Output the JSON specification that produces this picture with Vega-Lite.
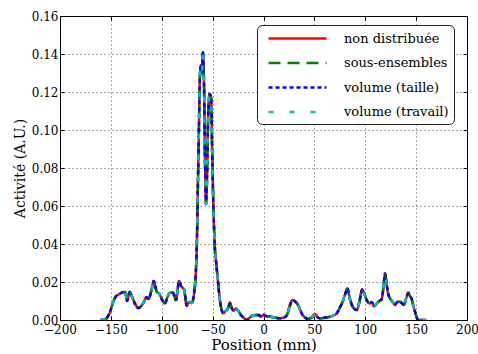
{
  "$schema": "https://vega.github.io/schema/vega-lite/v6.json",
  "width": 407,
  "height": 304,
  "autosize": {"type": "none"},
  "padding": {"left": 60, "top": 16, "right": 11, "bottom": 34},
  "background": "white",
  "config": {
    "font": "DejaVu Serif",
    "view": {"stroke": "#000", "strokeWidth": 1},
    "axis": {
      "labelFont": "DejaVu Serif",
      "labelFontSize": 12,
      "labelColor": "#000",
      "titleFont": "DejaVu Serif",
      "titleFontWeight": "normal",
      "titleColor": "#000",
      "domainColor": "#000",
      "tickColor": "#000",
      "tickSize": -4,
      "gridColor": "#000",
      "gridDash": [1, 3],
      "gridOpacity": 0.7,
      "gridWidth": 1,
      "labelOverlap": false,
      "labelFlush": false,
      "labelBound": false
    },
    "legend": {
      "labelFont": "DejaVu Serif"
    }
  },
  "data": {
    "values": [
      {"x": -160, "non distribuée": 0, "sous-ensembles": 0, "volume (taille)": 0, "volume (travail)": 0},
      {"x": -157, "non distribuée": 0, "sous-ensembles": 0, "volume (taille)": 0, "volume (travail)": 0},
      {"x": -154, "non distribuée": 0.001, "sous-ensembles": 0.001, "volume (taille)": 0.001, "volume (travail)": 0.001},
      {"x": -151, "non distribuée": 0.004, "sous-ensembles": 0.004, "volume (taille)": 0.004, "volume (travail)": 0.004},
      {"x": -148, "non distribuée": 0.009, "sous-ensembles": 0.009, "volume (taille)": 0.009, "volume (travail)": 0.009},
      {"x": -145, "non distribuée": 0.0125, "sous-ensembles": 0.0125, "volume (taille)": 0.0125, "volume (travail)": 0.0125},
      {"x": -142, "non distribuée": 0.0135, "sous-ensembles": 0.0135, "volume (taille)": 0.0135, "volume (travail)": 0.0135},
      {"x": -139, "non distribuée": 0.0145, "sous-ensembles": 0.0145, "volume (taille)": 0.0145, "volume (travail)": 0.0145},
      {"x": -136, "non distribuée": 0.0148, "sous-ensembles": 0.0148, "volume (taille)": 0.0148, "volume (travail)": 0.0148},
      {"x": -134, "non distribuée": 0.010, "sous-ensembles": 0.010, "volume (taille)": 0.010, "volume (travail)": 0.010},
      {"x": -131.5, "non distribuée": 0.0148, "sous-ensembles": 0.0148, "volume (taille)": 0.0148, "volume (travail)": 0.0148},
      {"x": -129, "non distribuée": 0.012, "sous-ensembles": 0.012, "volume (taille)": 0.012, "volume (travail)": 0.012},
      {"x": -126, "non distribuée": 0.0086, "sous-ensembles": 0.008, "volume (taille)": 0.008, "volume (travail)": 0.008},
      {"x": -123, "non distribuée": 0.0063, "sous-ensembles": 0.0063, "volume (taille)": 0.0063, "volume (travail)": 0.0063},
      {"x": -120, "non distribuée": 0.0075, "sous-ensembles": 0.0075, "volume (taille)": 0.0075, "volume (travail)": 0.0075},
      {"x": -118, "non distribuée": 0.009, "sous-ensembles": 0.009, "volume (taille)": 0.009, "volume (travail)": 0.009},
      {"x": -115, "non distribuée": 0.012, "sous-ensembles": 0.012, "volume (taille)": 0.012, "volume (travail)": 0.012},
      {"x": -113, "non distribuée": 0.011, "sous-ensembles": 0.011, "volume (taille)": 0.011, "volume (travail)": 0.011},
      {"x": -110, "non distribuée": 0.016, "sous-ensembles": 0.016, "volume (taille)": 0.016, "volume (travail)": 0.016},
      {"x": -108, "non distribuée": 0.0205, "sous-ensembles": 0.0205, "volume (taille)": 0.0205, "volume (travail)": 0.0205},
      {"x": -105, "non distribuée": 0.015, "sous-ensembles": 0.015, "volume (taille)": 0.015, "volume (travail)": 0.015},
      {"x": -102, "non distribuée": 0.0135, "sous-ensembles": 0.0135, "volume (taille)": 0.0135, "volume (travail)": 0.0135},
      {"x": -100, "non distribuée": 0.011, "sous-ensembles": 0.011, "volume (taille)": 0.011, "volume (travail)": 0.011},
      {"x": -97, "non distribuée": 0.0088, "sous-ensembles": 0.0088, "volume (taille)": 0.0088, "volume (travail)": 0.0088},
      {"x": -94, "non distribuée": 0.0125, "sous-ensembles": 0.0125, "volume (taille)": 0.0125, "volume (travail)": 0.0125},
      {"x": -92, "non distribuée": 0.0143, "sous-ensembles": 0.0143, "volume (taille)": 0.0143, "volume (travail)": 0.0143},
      {"x": -89, "non distribuée": 0.0143, "sous-ensembles": 0.0143, "volume (taille)": 0.0143, "volume (travail)": 0.0143},
      {"x": -86, "non distribuée": 0.0105, "sous-ensembles": 0.0105, "volume (taille)": 0.0105, "volume (travail)": 0.0105},
      {"x": -83, "non distribuée": 0.0205, "sous-ensembles": 0.020, "volume (taille)": 0.020, "volume (travail)": 0.020},
      {"x": -80.5, "non distribuée": 0.0175, "sous-ensembles": 0.0175, "volume (taille)": 0.0175, "volume (travail)": 0.0175},
      {"x": -78, "non distribuée": 0.016, "sous-ensembles": 0.016, "volume (taille)": 0.016, "volume (travail)": 0.016},
      {"x": -75.5, "non distribuée": 0.0075, "sous-ensembles": 0.0075, "volume (taille)": 0.0075, "volume (travail)": 0.0075},
      {"x": -73, "non distribuée": 0.0095, "sous-ensembles": 0.0095, "volume (taille)": 0.0095, "volume (travail)": 0.0095},
      {"x": -70.5, "non distribuée": 0.009, "sous-ensembles": 0.009, "volume (taille)": 0.009, "volume (travail)": 0.009},
      {"x": -68, "non distribuée": 0.015, "sous-ensembles": 0.015, "volume (taille)": 0.015, "volume (travail)": 0.015},
      {"x": -66.5, "non distribuée": 0.025, "sous-ensembles": 0.025, "volume (taille)": 0.025, "volume (travail)": 0.025},
      {"x": -65.5, "non distribuée": 0.040, "sous-ensembles": 0.040, "volume (taille)": 0.040, "volume (travail)": 0.040},
      {"x": -64.5, "non distribuée": 0.070, "sous-ensembles": 0.070, "volume (taille)": 0.070, "volume (travail)": 0.070},
      {"x": -63.5, "non distribuée": 0.100, "sous-ensembles": 0.100, "volume (taille)": 0.100, "volume (travail)": 0.100},
      {"x": -62.5, "non distribuée": 0.128, "sous-ensembles": 0.128, "volume (taille)": 0.128, "volume (travail)": 0.128},
      {"x": -61.5, "non distribuée": 0.134, "sous-ensembles": 0.134, "volume (taille)": 0.134, "volume (travail)": 0.134},
      {"x": -60.5, "non distribuée": 0.130, "sous-ensembles": 0.130, "volume (taille)": 0.130, "volume (travail)": 0.130},
      {"x": -59.5, "non distribuée": 0.141, "sous-ensembles": 0.141, "volume (taille)": 0.141, "volume (travail)": 0.141},
      {"x": -58.5, "non distribuée": 0.125, "sous-ensembles": 0.125, "volume (taille)": 0.125, "volume (travail)": 0.125},
      {"x": -57.5, "non distribuée": 0.085, "sous-ensembles": 0.085, "volume (taille)": 0.085, "volume (travail)": 0.085},
      {"x": -56.5, "non distribuée": 0.061, "sous-ensembles": 0.061, "volume (taille)": 0.061, "volume (travail)": 0.061},
      {"x": -55.5, "non distribuée": 0.075, "sous-ensembles": 0.075, "volume (taille)": 0.075, "volume (travail)": 0.075},
      {"x": -54.5, "non distribuée": 0.105, "sous-ensembles": 0.105, "volume (taille)": 0.105, "volume (travail)": 0.105},
      {"x": -53, "non distribuée": 0.119, "sous-ensembles": 0.119, "volume (taille)": 0.119, "volume (travail)": 0.119},
      {"x": -51.5, "non distribuée": 0.117, "sous-ensembles": 0.117, "volume (taille)": 0.117, "volume (travail)": 0.117},
      {"x": -50.5, "non distribuée": 0.090, "sous-ensembles": 0.090, "volume (taille)": 0.090, "volume (travail)": 0.090},
      {"x": -49.3, "non distribuée": 0.061, "sous-ensembles": 0.061, "volume (taille)": 0.061, "volume (travail)": 0.061},
      {"x": -48, "non distribuée": 0.040, "sous-ensembles": 0.040, "volume (taille)": 0.040, "volume (travail)": 0.040},
      {"x": -46.5, "non distribuée": 0.030, "sous-ensembles": 0.030, "volume (taille)": 0.030, "volume (travail)": 0.030},
      {"x": -45, "non distribuée": 0.022, "sous-ensembles": 0.022, "volume (taille)": 0.022, "volume (travail)": 0.022},
      {"x": -43, "non distribuée": 0.011, "sous-ensembles": 0.011, "volume (taille)": 0.011, "volume (travail)": 0.011},
      {"x": -41, "non distribuée": 0.005, "sous-ensembles": 0.005, "volume (taille)": 0.005, "volume (travail)": 0.005},
      {"x": -39.5, "non distribuée": 0.0035, "sous-ensembles": 0.0035, "volume (taille)": 0.0035, "volume (travail)": 0.0035},
      {"x": -37.5, "non distribuée": 0.0045, "sous-ensembles": 0.0045, "volume (taille)": 0.0045, "volume (travail)": 0.0045},
      {"x": -35, "non distribuée": 0.006, "sous-ensembles": 0.006, "volume (taille)": 0.006, "volume (travail)": 0.006},
      {"x": -33, "non distribuée": 0.0092, "sous-ensembles": 0.0087, "volume (taille)": 0.0087, "volume (travail)": 0.0087},
      {"x": -31, "non distribuée": 0.006, "sous-ensembles": 0.006, "volume (taille)": 0.006, "volume (travail)": 0.006},
      {"x": -29.5, "non distribuée": 0.005, "sous-ensembles": 0.005, "volume (taille)": 0.005, "volume (travail)": 0.005},
      {"x": -27, "non distribuée": 0.006, "sous-ensembles": 0.006, "volume (taille)": 0.006, "volume (travail)": 0.006},
      {"x": -25, "non distribuée": 0.005, "sous-ensembles": 0.005, "volume (taille)": 0.005, "volume (travail)": 0.005},
      {"x": -22, "non distribuée": 0.0025, "sous-ensembles": 0.0025, "volume (taille)": 0.0025, "volume (travail)": 0.0025},
      {"x": -19, "non distribuée": 0.001, "sous-ensembles": 0.001, "volume (taille)": 0.001, "volume (travail)": 0.001},
      {"x": -16.5, "non distribuée": 0, "sous-ensembles": 0, "volume (taille)": 0, "volume (travail)": 0},
      {"x": -13, "non distribuée": 0.0015, "sous-ensembles": 0.0015, "volume (taille)": 0.0015, "volume (travail)": 0.0015},
      {"x": -10, "non distribuée": 0.0025, "sous-ensembles": 0.0025, "volume (taille)": 0.0025, "volume (travail)": 0.0025},
      {"x": -5, "non distribuée": 0.0028, "sous-ensembles": 0.0025, "volume (taille)": 0.0025, "volume (travail)": 0.0025},
      {"x": -2, "non distribuée": 0.0018, "sous-ensembles": 0.0018, "volume (taille)": 0.0018, "volume (travail)": 0.0018},
      {"x": 0, "non distribuée": 0.0027, "sous-ensembles": 0.0027, "volume (taille)": 0.0027, "volume (travail)": 0.0027},
      {"x": 3, "non distribuée": 0.002, "sous-ensembles": 0.002, "volume (taille)": 0.002, "volume (travail)": 0.002},
      {"x": 7, "non distribuée": 0.0017, "sous-ensembles": 0.0017, "volume (taille)": 0.0017, "volume (travail)": 0.0017},
      {"x": 12, "non distribuée": 0.0012, "sous-ensembles": 0.0012, "volume (taille)": 0.0012, "volume (travail)": 0.0012},
      {"x": 16, "non distribuée": 0.0009, "sous-ensembles": 0.0009, "volume (taille)": 0.0009, "volume (travail)": 0.0009},
      {"x": 20, "non distribuée": 0.0013, "sous-ensembles": 0.0013, "volume (taille)": 0.0013, "volume (travail)": 0.0013},
      {"x": 23, "non distribuée": 0.0026, "sous-ensembles": 0.0026, "volume (taille)": 0.0026, "volume (travail)": 0.0026},
      {"x": 26, "non distribuée": 0.0082, "sous-ensembles": 0.0075, "volume (taille)": 0.0075, "volume (travail)": 0.0075},
      {"x": 28.7, "non distribuée": 0.0105, "sous-ensembles": 0.0105, "volume (taille)": 0.0105, "volume (travail)": 0.0105},
      {"x": 31, "non distribuée": 0.0098, "sous-ensembles": 0.0098, "volume (taille)": 0.0098, "volume (travail)": 0.0098},
      {"x": 33, "non distribuée": 0.0087, "sous-ensembles": 0.0087, "volume (taille)": 0.0087, "volume (travail)": 0.0087},
      {"x": 35.5, "non distribuée": 0.006, "sous-ensembles": 0.006, "volume (taille)": 0.006, "volume (travail)": 0.006},
      {"x": 37.5, "non distribuée": 0.0035, "sous-ensembles": 0.0035, "volume (taille)": 0.0035, "volume (travail)": 0.0035},
      {"x": 41, "non distribuée": 0.0012, "sous-ensembles": 0.0012, "volume (taille)": 0.0012, "volume (travail)": 0.0012},
      {"x": 44, "non distribuée": 0.0005, "sous-ensembles": 0.0005, "volume (taille)": 0.0005, "volume (travail)": 0.0005},
      {"x": 47, "non distribuée": 0.0012, "sous-ensembles": 0.0012, "volume (taille)": 0.0012, "volume (travail)": 0.0012},
      {"x": 50.6, "non distribuée": 0.0032, "sous-ensembles": 0.0026, "volume (taille)": 0.0026, "volume (travail)": 0.0026},
      {"x": 53, "non distribuée": 0.0015, "sous-ensembles": 0.0015, "volume (taille)": 0.0015, "volume (travail)": 0.0015},
      {"x": 55.5, "non distribuée": 0.0009, "sous-ensembles": 0.0009, "volume (taille)": 0.0009, "volume (travail)": 0.0009},
      {"x": 60, "non distribuée": 0.0012, "sous-ensembles": 0.0012, "volume (taille)": 0.0012, "volume (travail)": 0.0012},
      {"x": 65, "non distribuée": 0.0017, "sous-ensembles": 0.0017, "volume (taille)": 0.0017, "volume (travail)": 0.0017},
      {"x": 69, "non distribuée": 0.0025, "sous-ensembles": 0.0025, "volume (taille)": 0.0025, "volume (travail)": 0.0025},
      {"x": 72, "non distribuée": 0.0035, "sous-ensembles": 0.0035, "volume (taille)": 0.0035, "volume (travail)": 0.0035},
      {"x": 75, "non distribuée": 0.0065, "sous-ensembles": 0.0065, "volume (taille)": 0.0065, "volume (travail)": 0.0065},
      {"x": 78.4, "non distribuée": 0.0105, "sous-ensembles": 0.0105, "volume (taille)": 0.0105, "volume (travail)": 0.0105},
      {"x": 80.5, "non distribuée": 0.014, "sous-ensembles": 0.014, "volume (taille)": 0.014, "volume (travail)": 0.014},
      {"x": 82.4, "non distribuée": 0.0166, "sous-ensembles": 0.0166, "volume (taille)": 0.0166, "volume (travail)": 0.0166},
      {"x": 84.5, "non distribuée": 0.012, "sous-ensembles": 0.012, "volume (taille)": 0.012, "volume (travail)": 0.012},
      {"x": 86.7, "non distribuée": 0.0085, "sous-ensembles": 0.0079, "volume (taille)": 0.0079, "volume (travail)": 0.0079},
      {"x": 89, "non distribuée": 0.006, "sous-ensembles": 0.006, "volume (taille)": 0.006, "volume (travail)": 0.006},
      {"x": 91.6, "non distribuée": 0.0052, "sous-ensembles": 0.0052, "volume (taille)": 0.0052, "volume (travail)": 0.0052},
      {"x": 94, "non distribuée": 0.009, "sous-ensembles": 0.009, "volume (taille)": 0.009, "volume (travail)": 0.009},
      {"x": 97.1, "non distribuée": 0.0161, "sous-ensembles": 0.0161, "volume (taille)": 0.0161, "volume (travail)": 0.0161},
      {"x": 99, "non distribuée": 0.014, "sous-ensembles": 0.014, "volume (taille)": 0.014, "volume (travail)": 0.014},
      {"x": 101.4, "non distribuée": 0.0105, "sous-ensembles": 0.0105, "volume (taille)": 0.0105, "volume (travail)": 0.0105},
      {"x": 104.7, "non distribuée": 0.0087, "sous-ensembles": 0.0087, "volume (taille)": 0.0087, "volume (travail)": 0.0087},
      {"x": 106.5, "non distribuée": 0.0095, "sous-ensembles": 0.0095, "volume (taille)": 0.0095, "volume (travail)": 0.0095},
      {"x": 108.6, "non distribuée": 0.0073, "sous-ensembles": 0.0073, "volume (taille)": 0.0073, "volume (travail)": 0.0073},
      {"x": 111, "non distribuée": 0.0085, "sous-ensembles": 0.0085, "volume (taille)": 0.0085, "volume (travail)": 0.0085},
      {"x": 112.8, "non distribuée": 0.0096, "sous-ensembles": 0.0096, "volume (taille)": 0.0096, "volume (travail)": 0.0096},
      {"x": 116.2, "non distribuée": 0.011, "sous-ensembles": 0.011, "volume (taille)": 0.011, "volume (travail)": 0.011},
      {"x": 118, "non distribuée": 0.018, "sous-ensembles": 0.018, "volume (taille)": 0.018, "volume (travail)": 0.018},
      {"x": 119.4, "non distribuée": 0.0245, "sous-ensembles": 0.0245, "volume (taille)": 0.0245, "volume (travail)": 0.0245},
      {"x": 121, "non distribuée": 0.019, "sous-ensembles": 0.019, "volume (taille)": 0.019, "volume (travail)": 0.019},
      {"x": 122.5, "non distribuée": 0.014, "sous-ensembles": 0.014, "volume (taille)": 0.014, "volume (travail)": 0.014},
      {"x": 124.3, "non distribuée": 0.0114, "sous-ensembles": 0.0114, "volume (taille)": 0.0114, "volume (travail)": 0.0114},
      {"x": 127, "non distribuée": 0.0095, "sous-ensembles": 0.0095, "volume (taille)": 0.0095, "volume (travail)": 0.0095},
      {"x": 129.2, "non distribuée": 0.0079, "sous-ensembles": 0.0079, "volume (taille)": 0.0079, "volume (travail)": 0.0079},
      {"x": 131.5, "non distribuée": 0.0095, "sous-ensembles": 0.0095, "volume (taille)": 0.0095, "volume (travail)": 0.0095},
      {"x": 134, "non distribuée": 0.0096, "sous-ensembles": 0.0096, "volume (taille)": 0.0096, "volume (travail)": 0.0096},
      {"x": 136, "non distribuée": 0.0088, "sous-ensembles": 0.0088, "volume (taille)": 0.0088, "volume (travail)": 0.0088},
      {"x": 138, "non distribuée": 0.0079, "sous-ensembles": 0.0079, "volume (taille)": 0.0079, "volume (travail)": 0.0079},
      {"x": 140, "non distribuée": 0.011, "sous-ensembles": 0.011, "volume (taille)": 0.011, "volume (travail)": 0.011},
      {"x": 142.3, "non distribuée": 0.0145, "sous-ensembles": 0.014, "volume (taille)": 0.014, "volume (travail)": 0.014},
      {"x": 144, "non distribuée": 0.0125, "sous-ensembles": 0.0125, "volume (taille)": 0.0125, "volume (travail)": 0.0125},
      {"x": 145.5, "non distribuée": 0.0114, "sous-ensembles": 0.0114, "volume (taille)": 0.0114, "volume (travail)": 0.0114},
      {"x": 147, "non distribuée": 0.008, "sous-ensembles": 0.008, "volume (taille)": 0.008, "volume (travail)": 0.008},
      {"x": 148.9, "non distribuée": 0.0044, "sous-ensembles": 0.0044, "volume (taille)": 0.0044, "volume (travail)": 0.0044},
      {"x": 150.5, "non distribuée": 0.0015, "sous-ensembles": 0.0015, "volume (taille)": 0.0015, "volume (travail)": 0.0015},
      {"x": 152, "non distribuée": 0, "sous-ensembles": 0, "volume (taille)": 0, "volume (travail)": 0},
      {"x": 156, "non distribuée": 0, "sous-ensembles": 0, "volume (taille)": 0, "volume (travail)": 0},
      {"x": 160, "non distribuée": 0, "sous-ensembles": 0, "volume (taille)": 0, "volume (travail)": 0}
    ]
  },
  "transform": [
    {"fold": ["non distribuée", "sous-ensembles", "volume (taille)", "volume (travail)"], "as": ["serie", "v"]}
  ],
  "layer": [
    {
      "mark": {"type": "line", "strokeWidth": 2.5, "interpolate": "monotone", "clip": true},
      "encoding": {
        "x": {
          "field": "x", "type": "quantitative",
          "scale": {"domain": [-200, 200], "nice": false, "zero": false},
          "axis": {"title": "Position (mm)", "titleFontSize": 15, "titlePadding": 2, "labelPadding": 8, "values": [-200, -150, -100, -50, 0, 50, 100, 150, 200], "format": "d", "grid": true}
        },
        "y": {
          "field": "v", "type": "quantitative",
          "scale": {"domain": [0, 0.16], "nice": false},
          "axis": {"title": "Activité (A.U.)", "titleFontSize": 14, "titlePadding": 4, "labelPadding": 6, "values": [0, 0.02, 0.04, 0.06, 0.08, 0.1, 0.12, 0.14, 0.16], "format": ".2f", "grid": true}
        },
        "color": {
          "field": "serie", "type": "nominal",
          "scale": {"domain": ["non distribuée", "sous-ensembles", "volume (taille)", "volume (travail)"], "range": ["#ff0000", "#008000", "#0000ff", "#00bfbf"]},
          "legend": {
            "orient": "none", "legendX": 197, "legendY": 9, "title": null,
            "fillColor": "white", "strokeColor": "#222", "cornerRadius": 5, "padding": 5,
            "labelFont": "DejaVu Serif", "labelFontSize": 13, "labelColor": "#000",
            "symbolType": "M-4,0H4", "symbolSize": 210, "symbolStrokeWidth": 2.5,
            "symbolOffset": 27, "labelOffset": 38, "rowPadding": 8.5
          }
        },
        "strokeDash": {
          "field": "serie", "type": "nominal",
          "scale": {"domain": ["non distribuée", "sous-ensembles", "volume (taille)", "volume (travail)"], "range": [[1, 0], [12, 7], [4, 3], [5, 16]]},
          "legend": {
            "orient": "none", "legendX": 197, "legendY": 9, "title": null,
            "fillColor": "white", "strokeColor": "#222", "cornerRadius": 5, "padding": 5,
            "labelFont": "DejaVu Serif", "labelFontSize": 13, "labelColor": "#000",
            "symbolType": "M-4,0H4", "symbolSize": 210, "symbolStrokeWidth": 2.5,
            "symbolOffset": 27, "labelOffset": 38, "rowPadding": 8.5
          }
        }
      }
    },
    {
      "mark": {"type": "line", "strokeOpacity": 0},
      "encoding": {
        "x": {
          "field": "x", "type": "quantitative",
          "scale": {"domain": [-200, 200], "nice": false, "zero": false},
          "axis": {"orient": "top", "labels": false, "title": null, "grid": false, "domain": false, "values": [-200, -150, -100, -50, 0, 50, 100, 150, 200]}
        },
        "y": {
          "field": "v", "type": "quantitative",
          "scale": {"domain": [0, 0.16], "nice": false},
          "axis": {"orient": "right", "labels": false, "title": null, "grid": false, "domain": false, "values": [0, 0.02, 0.04, 0.06, 0.08, 0.1, 0.12, 0.14, 0.16]}
        }
      }
    }
  ],
  "resolve": {"axis": {"x": "independent", "y": "independent"}}
}
